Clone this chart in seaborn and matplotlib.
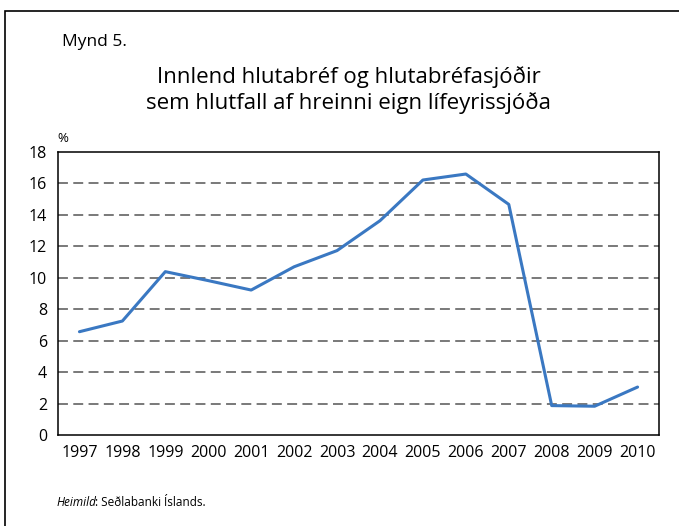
import numpy as np
import pandas as pd
import seaborn as sns
import matplotlib.pyplot as plt
from matplotlib.patches import Rectangle

# Data
years = ['1997', '1998', '1999', '2000', '2001', '2002', '2003',
         '2004', '2005', '2006', '2007', '2008', '2009', '2010']
values = [6.57, 7.25, 10.39, 9.82, 9.22, 10.7, 11.73,
          13.63, 16.22, 16.6, 14.67, 1.87, 1.83, 3.05]
y_ticks = [0, 2, 4, 6, 8, 10, 12, 14, 16, 18]

df = pd.DataFrame({'pos': np.arange(len(years)), 'value': values})

sns.set_style('white')
plt.rcParams['font.family'] = ['Open Sans', 'DejaVu Sans']
plt.rcParams['text.color'] = 'black'
plt.rcParams['xtick.color'] = 'black'
plt.rcParams['ytick.color'] = 'black'

fig = plt.figure(figsize=(6.79, 5.26), dpi=100)
ax = fig.add_axes([0.0854, 0.173, 0.8852, 0.538])

# outer frame (cut at right and bottom like the source)
fig.patches.append(Rectangle((5 / 679, -0.05), 1.2, 1 - 11 / 526 + 0.05,
                             transform=fig.transFigure, fill=False,
                             edgecolor='black', linewidth=1.2))

# dashed grid lines
for v in y_ticks[1:-1]:
    ax.axhline(v, color='#555555', linewidth=1.1, linestyle=(0, (6.5, 3.5)), zorder=1)

sns.lineplot(data=df, x='pos', y='value', color='#3a78c2', linewidth=2.2, ax=ax, zorder=3)

ax.set_xlim(-0.5, len(years) - 0.5)
ax.set_ylim(0, 18)
ax.set_yticks(y_ticks)
ax.set_yticklabels([str(v) for v in y_ticks], fontsize=11.5)
ax.tick_params(axis='y', length=0, pad=8)

ax.set_xticks(np.arange(len(years) + 1) - 0.5)
ax.set_xticklabels([])
ax.set_xticks(np.arange(len(years)), minor=True)
ax.set_xticklabels(years, minor=True, fontsize=11.5)
ax.tick_params(axis='x', which='major', length=6, width=1, color='black', direction='out')
ax.tick_params(axis='x', which='minor', length=0, pad=7)
ax.set_xlabel('')
ax.set_ylabel('')

for s in ax.spines.values():
    s.set_color('black')
    s.set_linewidth(1.1)

fig.text(62 / 679, 1 - 42 / 526, 'Mynd 5.', fontsize=12.5, ha='left', va='center')
fig.text(349 / 679, 1 - 90 / 526,
         'Innlend hlutabréf og hlutabréfasjóðir\nsem hlutfall af hreinni eign lífeyrissjóða',
         fontsize=16, ha='center', va='center', linespacing=1.2)
fig.text(57 / 679, 1 - 139 / 526, '%', fontsize=9.5, ha='left', va='center')
fig.text(57 / 679, 1 - 503 / 526, 'Heimild', fontsize=8.5, style='italic', ha='left', va='center')
fig.text(95 / 679, 1 - 503 / 526, ': Seðlabanki Íslands.', fontsize=8.5, ha='left', va='center')

fig.savefig('out.png', dpi=100)
